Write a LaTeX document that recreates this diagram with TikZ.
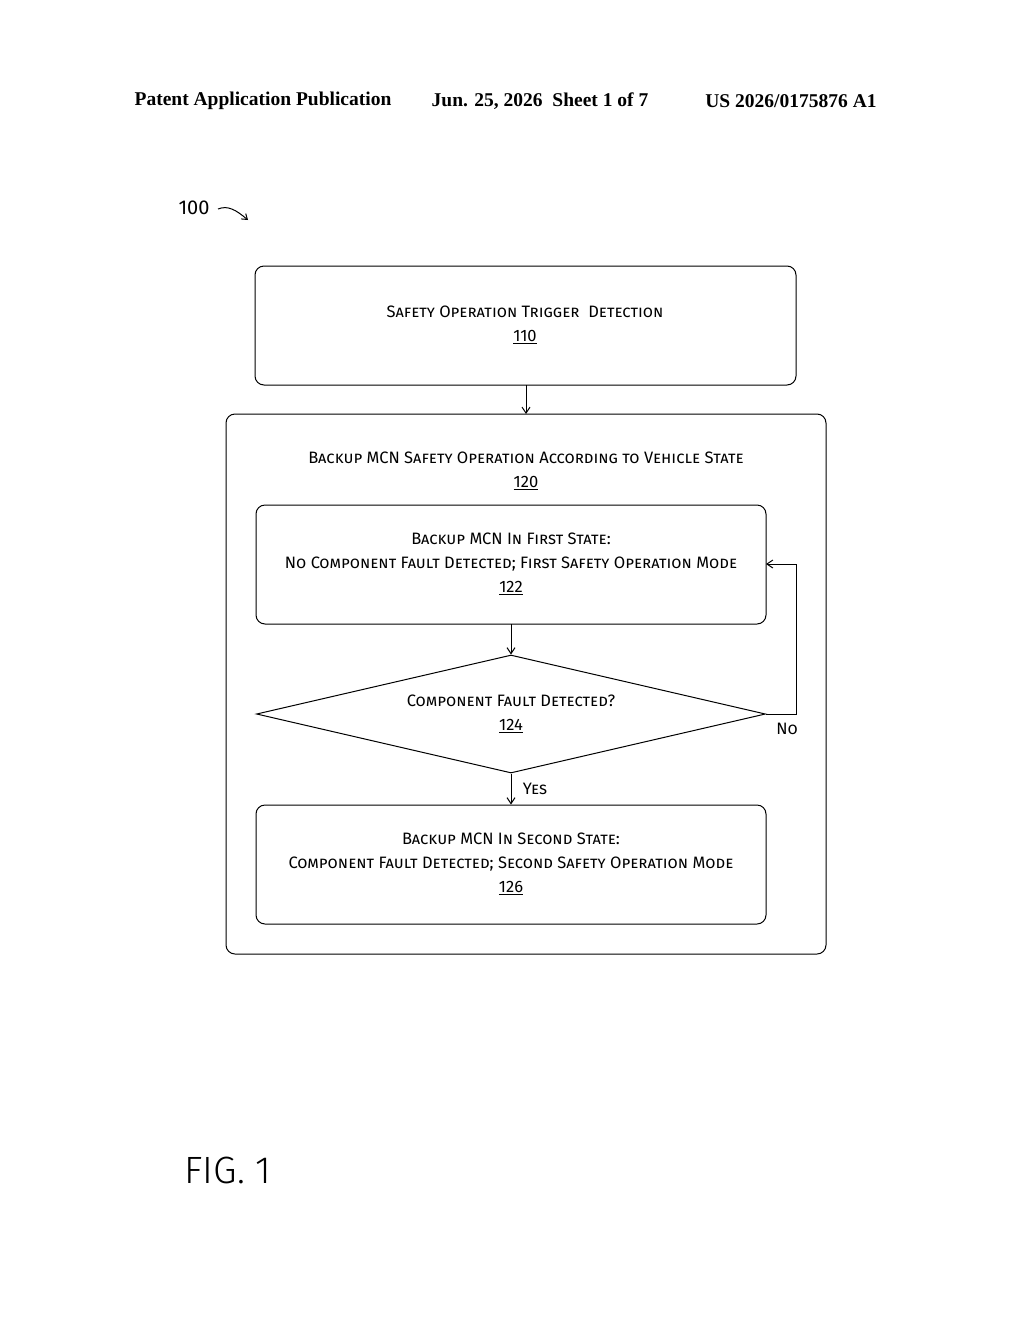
\documentclass[tikz,border=0pt]{standalone}
\usepackage{fontspec}
\setmainfont{Fira Sans}
\newfontfamily\lightf{Fira Sans Light}
\newfontfamily\hdr{Liberation Serif}
\usetikzlibrary{shapes.geometric,arrows.meta}
\begin{document}
\begin{tikzpicture}[x=1pt,y=-1pt,
  box/.style={draw,line width=1pt,rounded corners=9pt},
  txt/.style={font=\fontsize{16.5}{24}\selectfont\scshape,align=center},
  hd/.style={font=\hdr\bfseries\fontsize{19.5}{22}\selectfont},
  arr/.style={draw,line width=1pt,-{Straight Barb[length=6pt,width=8pt]}}]
\useasboundingbox (0,0) rectangle (1024,1320);
\node[hd] (h1) at (263,101) {Patent Application Publication};
\node[hd] (h2) at (540,101) {Jun. 25, 2026\ \ Sheet 1 of 7};
\node[hd] (h3) at (791,101) {US 2026/0175876 A1};
\node[font=\fontsize{20}{22}\selectfont] (n100) at (194,208) {100};
\coordinate (a100) at (248,220);
\draw[line width=1pt,-{Straight Barb[length=5pt,width=7pt]}] (218,209) .. controls (228,205) and (236,210) .. (a100);
\draw[box] (255,266) rectangle (796,385);
\node[txt] (t110) at (525,325) {Safety Operation Trigger\ \ Detection\\\underline{110}};
\coordinate (b110) at (526,385);
\draw[box] (226,414) rectangle (826,954);
\coordinate (t120b) at (526,414);
\node[txt] (t120) at (526,471) {Backup MCN Safety Operation According to Vehicle State\\\underline{120}};
\draw[box] (256,505) rectangle (766,624);
\node[txt] (t122) at (511,564) {Backup MCN In First State:\\No Component Fault Detected; First Safety Operation Mode\\\underline{122}};
\coordinate (b122) at (511,624);
\coordinate (r122) at (766,564);
\node[draw,line width=1pt,diamond,minimum width=509pt,minimum height=118pt,inner sep=0pt,aspect=4.3] (d124) at (511,714) {};
\node[txt] at (511,714) {Component Fault Detected?\\\underline{124}};
\node[draw,line width=1pt,rounded corners=9pt,minimum width=510pt,minimum height=119pt] (b126) at (511,864.5) {};
\node[txt] (t126) at (511,864) {Backup MCN In Second State:\\Component Fault Detected; Second Safety Operation Mode\\\underline{126}};
\draw[arr] (b110) -- (t120b);
\draw[arr] (b122) -- (d124.north);
\draw[arr] (d124.south) -- (b126.north);
\draw[arr] (d124.east) -| (796,564) -- (r122);
\node[txt] (no) at (787,729) {No};
\node[txt] (yes) at (535,789) {Yes};
\node[font=\fontsize{38}{44}\selectfont\lightf] (fig) at (228,1170) {FIG. 1};
\end{tikzpicture}
\end{document}
